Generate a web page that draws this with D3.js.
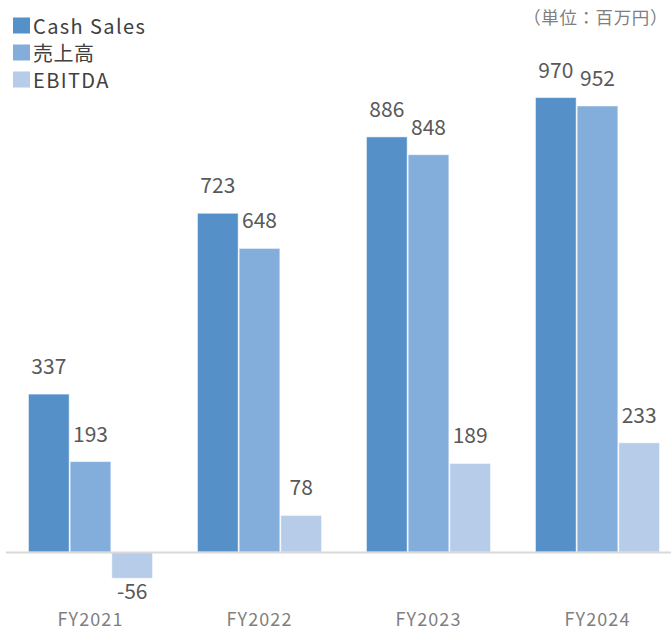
<!DOCTYPE html>
<html>
<head>
<meta charset="utf-8">
<script src="https://cdn.jsdelivr.net/npm/d3@7/dist/d3.min.js"></script>
<style>
  html, body { margin: 0; padding: 0; background: #fff; }
  svg { display: block; font-family: "Noto Sans CJK JP", "Noto Sans", sans-serif; }
</style>
</head>
<body>
<svg id="chart" width="671" height="631"></svg>
<script>
// Fiscal years and the three series (unit: million yen)
const years = ["FY2021", "FY2022", "FY2023", "FY2024"];
const seriesNames = ["Cash Sales", "売上高", "EBITDA"];
const cashSales = [337, 723, 886, 970];
const revenue = [193, 648, 848, 952];
const ebitda = [-56, 78, 189, 233];
const seriesColors = ["#5590c8", "#83aedc", "#b6cce9"];
const unitLabel = "（単位：百万円）";

const seriesValues = [cashSales, revenue, ebitda];

const svg = d3.select("#chart");

const x0 = d3.scaleBand()
  .domain(years)
  .range([6, 682])
  .paddingInner(0.26)
  .paddingOuter(0.13);

const x1 = d3.scaleBand()
  .domain(seriesNames)
  .range([0, x0.bandwidth()])
  .padding(0);

const y = d3.scaleLinear()
  .domain([0, 1000])
  .range([552, 83.5]);

// Flattened bar records
const bars = [];
years.forEach((yr, i) => {
  seriesNames.forEach((s, j) => {
    bars.push({ year: yr, series: s, value: seriesValues[j][i], color: seriesColors[j] });
  });
});

const g = svg.append("g");

g.selectAll("rect.bar")
  .data(bars)
  .join("rect")
  .attr("class", "bar")
  .attr("x", d => x0(d.year) + x1(d.series) + 0.5)
  .attr("width", x1.bandwidth() - 1)
  .attr("y", d => Math.min(y(d.value), y(0)))
  .attr("height", d => Math.abs(y(d.value) - y(0)))
  .attr("fill", d => d.color)
  .attr("stroke", "#ffffff")
  .attr("stroke-opacity", 0.5)
  .attr("stroke-width", 1);

// Zero line
g.append("line")
  .attr("x1", 6).attr("x2", 671)
  .attr("y1", y(0) + 0.5).attr("y2", y(0) + 0.5)
  .attr("stroke", "#d9d9d9")
  .attr("stroke-width", 2);

// Value labels
g.selectAll("text.val")
  .data(bars)
  .join("text")
  .attr("class", "val")
  .attr("x", d => x0(d.year) + x1(d.series) + x1.bandwidth() / 2)
  .attr("y", d => d.value >= 0 ? y(d.value) - 20 : y(d.value) + 21)
  .attr("text-anchor", "middle")
  .attr("font-size", 21)
  .attr("fill", "#595959")
  .text(d => d.value);

// Category axis
const xAxis = d3.axisBottom(x0).tickSize(0).tickPadding(0);
const ax = svg.append("g")
  .attr("transform", "translate(0,610)")
  .call(xAxis);
ax.select(".domain").remove();
ax.selectAll("text")
  .attr("font-size", 18)
  .attr("font-family", "\"Noto Sans CJK JP\", sans-serif")
  .attr("letter-spacing", 1.1)
  .attr("fill", "#7f7f7f")
  .attr("dy", "0.88em");

// Legend
const legend = svg.append("g");
const rowY = [26, 53, 80];
seriesNames.forEach((s, i) => {
  legend.append("rect")
    .attr("x", 13).attr("y", rowY[i] - 8.5)
    .attr("width", 17).attr("height", 16)
    .attr("fill", seriesColors[i]);
  legend.append("text")
    .attr("x", 33).attr("y", rowY[i] + 8)
    .attr("font-size", 20)
    .attr("letter-spacing", i === 1 ? 0.5 : 1.4)
    .attr("fill", "#404040")
    .text(s);
});

// Unit note
svg.append("text")
  .attr("x", 668).attr("y", 24)
  .attr("text-anchor", "end")
  .attr("font-size", 17.5)
  .attr("letter-spacing", 0.6)
  .attr("fill", "#7f7f7f")
  .text(unitLabel);
</script>
</body>
</html>
